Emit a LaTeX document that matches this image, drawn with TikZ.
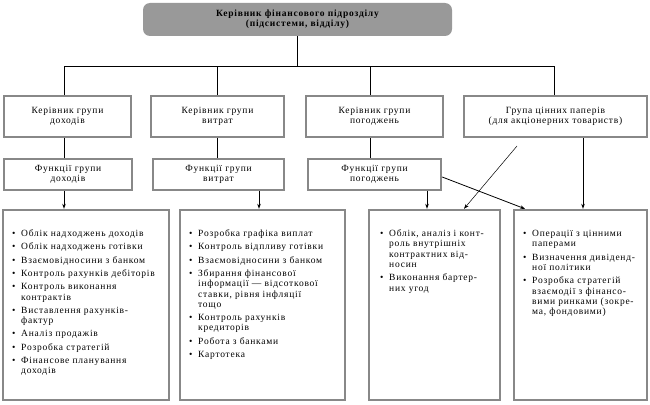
\documentclass[tikz,border=0pt]{standalone}
\usepackage{fontspec}
\setmainfont{Liberation Serif}[LetterSpace=8]
\usetikzlibrary{arrows.meta,calc}
\definecolor{bgray}{RGB}{136,136,136}
\definecolor{tgray}{RGB}{153,153,153}
\newcommand\nf{\fontsize{9.5}{10.3}\selectfont}
\newcommand\bl[1]{\par\vspace{3pt}\noindent\makebox[9pt][l]{\textbullet}\mbox{#1}}
\newcommand\cl[1]{\par\noindent\hspace*{9pt}\mbox{#1}}
\begin{document}
\begin{tikzpicture}[x=1pt,y=-1pt,
  box/.style={draw=bgray,line width=2.4pt,inner sep=0pt,align=center,font=\nf},
  head/.style={fill=tgray,rounded corners=7pt,inner sep=0pt,align=center,font=\nf\bfseries},
  blist/.style={anchor=north west,inner sep=0pt,text width=#1,font=\nf},
  conn/.style={line width=0.8pt},
  arr/.style={line width=0.8pt,-{Stealth[length=5pt,width=3.6pt]}},
]
\useasboundingbox[fill=white] (0,0) rectangle (650,404);
% top
\node[head,minimum width=309pt,minimum height=33pt] (top) at (297.5,19.5) {Керівник фінансового підрозділу\\(підсистеми, відділу)};
% level 2
\node[box,minimum width=127pt,minimum height=41pt] (ka) at (67.5,116.5) {Керівник групи\\доходів};
\node[box,minimum width=133pt,minimum height=41pt] (kb) at (217.5,116.5) {Керівник групи\\витрат};
\node[box,minimum width=137pt,minimum height=41pt] (kc) at (374.5,116.5) {Керівник групи\\погоджень};
\node[box,minimum width=183pt,minimum height=41pt] (kd) at (555.5,116.5) {Група цінних паперів\\(для акціонерних товариств)};
% level 3
\node[box,minimum width=128pt,minimum height=31pt] (fa) at (68,174.5) {Функції групи\\доходів};
\node[box,minimum width=131pt,minimum height=31pt] (fb) at (218.5,174.5) {Функції групи\\витрат};
\node[box,minimum width=133pt,minimum height=31pt] (fc) at (374.5,174.5) {Функції групи\\погоджень};
% bottom boxes
\node[box,minimum width=166pt,minimum height=190pt] (la) at (86,305) {};
\node[box,minimum width=165pt,minimum height=190pt] (lb) at (262.5,305) {};
\node[box,minimum width=131pt,minimum height=190pt] (lc) at (434.5,305) {};
\node[box,minimum width=133pt,minimum height=190pt] (ld) at (580.5,305) {};
% lists
\node[blist=155pt] (ta) at (12,223) {%
\bl{Облік надходжень доходів}
\bl{Облік надходжень готівки}
\bl{Взаємовідносини з банком}
\bl{Контроль рахунків дебіторів}
\bl{Контроль виконання}\cl{контрактів}
\bl{Виставлення рахунків-}\cl{фактур}
\bl{Аналіз продажів}
\bl{Розробка стратегій}
\bl{Фінансове планування}\cl{доходів}};
\node[blist=155pt] (tb) at (189,223) {%
\bl{Розробка графіка виплат}
\bl{Контроль відпливу готівки}
\bl{Взаємовідносини з банком}
\bl{Збирання фінансової}\cl{інформації — відсоткової}\cl{ставки, рівня інфляції}\cl{тощо}
\bl{Контроль рахунків}\cl{кредиторів}
\bl{Робота з банками}
\bl{Картотека}};
\node[blist=118pt] (tc) at (380,223) {%
\bl{Облік, аналіз і конт-}\cl{роль внутрішніх}\cl{контрактних від-}\cl{носин}
\bl{Виконання бартер-}\cl{них угод}};
\node[blist=122pt] (td) at (523,223) {%
\bl{Операції з цінними}\cl{паперами}
\bl{Визначення дивіденд-}\cl{ної політики}
\bl{Розробка стратегій}\cl{взаємодії з фінансо-}\cl{вими ринками (зокре-}\cl{ма, фондовими)}};
% connectors
\coordinate (hub) at (297.5,66);
\coordinate (ha) at (64,66);
\coordinate (hb) at (217,66);
\coordinate (hc) at (370,66);
\coordinate (hd) at (554,66);
\draw[conn] (top.south) -- (hub);
\draw[conn] (ha) -- (hd);
\draw[conn] (ha) -- (ha |- ka.north);
\draw[conn] (hb) -- (hb |- kb.north);
\draw[conn] (hc) -- (hc |- kc.north);
\draw[conn] (hd) -- (hd |- kd.north);
\draw[conn] (ha |- ka.south) -- (ha |- fa.north);
\draw[conn] (hb |- kb.south) -- (hb |- fb.north);
\draw[conn] (hc |- kc.south) -- (hc |- fc.north);
\draw[arr] (ha |- fa.south) -- (ha |- la.north);
\draw[arr] ([xshift=40.5pt]fb.south) -- ([xshift=40.5pt]fb.south |- lb.north);
\draw[arr] ([xshift=52.5pt]fc.south) -- ([xshift=52.5pt]fc.south |- lc.north);
\draw[arr] ([xshift=27.5pt]kd.south) -- ([xshift=27.5pt]kd.south |- ld.north);
\coordinate (fs) at (517,146);
\draw[arr,line width=0.5pt] (fs) -- ([xshift=29.5pt]lc.north);
\draw[arr] ([yshift=-2.5pt]fc.east) -- ([xshift=-55.5pt]ld.north);
\end{tikzpicture}
\end{document}
